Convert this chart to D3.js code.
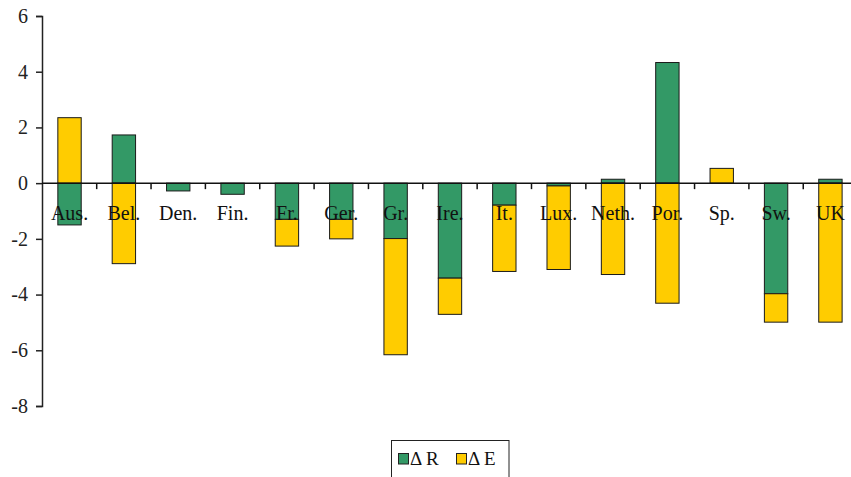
<!DOCTYPE html>
<html>
<head>
<meta charset="utf-8">
<script src="https://cdn.jsdelivr.net/npm/d3@7"></script>
<style>
  html, body { margin: 0; padding: 0; background: #fff; }
  svg { display: block; }
  text { font-family: "Liberation Serif", "Times New Roman", serif; }
</style>
</head>
<body>
<svg id="chart" width="851" height="477"></svg>
<script>
const categories = ["Aus.", "Bel.", "Den.", "Fin.", "Fr.", "Ger.", "Gr.", "Ire.", "It.", "Lux.", "Neth.", "Por.", "Sp.", "Sw.", "UK"];
const deltaR = [-1.5, 1.73, -0.28, -0.4, -1.3, -1.3, -1.99, -3.41, -0.79, -0.1, 0.14, 4.33, 0, -3.97, 0.14];
const deltaE = [2.35, -2.89, 0, 0, -0.96, -0.7, -4.17, -1.3, -2.38, -3.0, -3.28, -4.31, 0.53, -1.02, -4.99];
const yTicks = [6, 4, 2, 0, -2, -4, -6, -8];
const seriesNames = ["\u0394 R", "\u0394 E"];
const seriesColors = ["#339966", "#FFCC00"];

const svg = d3.select("#chart");
const x = d3.scaleBand().domain(categories).range([42.35, 857.6]).paddingInner(0).paddingOuter(0);
const y = d3.scaleLinear().domain([-8, 6]).range([406, 16]);

// stacking: positives up, negatives down (Excel-style)
const segs = [];
categories.forEach((c, i) => {
  let pos = 0, neg = 0;
  [deltaR[i], deltaE[i]].forEach((v, s) => {
    if (v === 0) return;
    let y0, y1;
    if (v > 0) { y0 = pos; y1 = pos + v; pos = y1; }
    else { y0 = neg; y1 = neg + v; neg = y1; }
    segs.push({ c, s, y0, y1 });
  });
});

const bw = x.bandwidth() * 0.43;
svg.append("g").selectAll("rect").data(segs).join("rect")
  .attr("x", d => x(d.c) + (x.bandwidth() - bw) / 2)
  .attr("width", bw)
  .attr("y", d => y(Math.max(d.y0, d.y1)))
  .attr("height", d => Math.abs(y(d.y0) - y(d.y1)))
  .attr("fill", d => seriesColors[d.s])
  .attr("stroke", "#1a1a1a")
  .attr("stroke-width", 1);

// y axis
const yAxis = svg.append("g").attr("transform", "translate(42,0)")
  .call(d3.axisLeft(y).tickValues(yTicks).tickSize(6).tickPadding(8).tickFormat(d => String(d)));
yAxis.select(".domain").attr("stroke", "#222").attr("stroke-width", 1.5);
yAxis.selectAll(".tick line").attr("stroke", "#222").attr("stroke-width", 1.5);
yAxis.selectAll(".tick text").attr("font-size", 20).attr("fill", "#222")
  .attr("font-family", "Liberation Serif, serif");

// x axis line at zero
svg.append("line").attr("x1", 42).attr("x2", 851).attr("y1", y(0)).attr("y2", y(0))
  .attr("stroke", "#111").attr("stroke-width", 1.5);
// ticks between categories
const boundaries = categories.slice(1).map(c => x(c));
svg.append("g").selectAll("line").data(boundaries).join("line")
  .attr("x1", d => d).attr("x2", d => d)
  .attr("y1", y(0)).attr("y2", y(0) + 6)
  .attr("stroke", "#111").attr("stroke-width", 1.5);

// category labels
svg.append("g").selectAll("text").data(categories).join("text")
  .attr("x", d => x(d) + x.bandwidth() / 2)
  .attr("y", y(0) + 37)
  .attr("text-anchor", "middle")
  .attr("font-size", 20)
  .attr("fill", "#111")
  .text(d => d);

// legend
const lg = svg.append("g");
lg.append("rect").attr("x", 391.5).attr("y", 440.5).attr("width", 117.5).attr("height", 40)
  .attr("fill", "#fff").attr("stroke", "#222").attr("stroke-width", 1);
const legendX = [398.5, 456.5];
seriesNames.forEach((n, i) => {
  lg.append("rect").attr("x", legendX[i]).attr("y", 453.5).attr("width", 10).attr("height", 10.5)
    .attr("fill", seriesColors[i]).attr("stroke", "#222").attr("stroke-width", 1);
  lg.append("text").attr("x", legendX[i] + 11.5).attr("y", 464.5)
    .attr("font-size", 19).attr("fill", "#111").text(n);
});
</script>
</body>
</html>
